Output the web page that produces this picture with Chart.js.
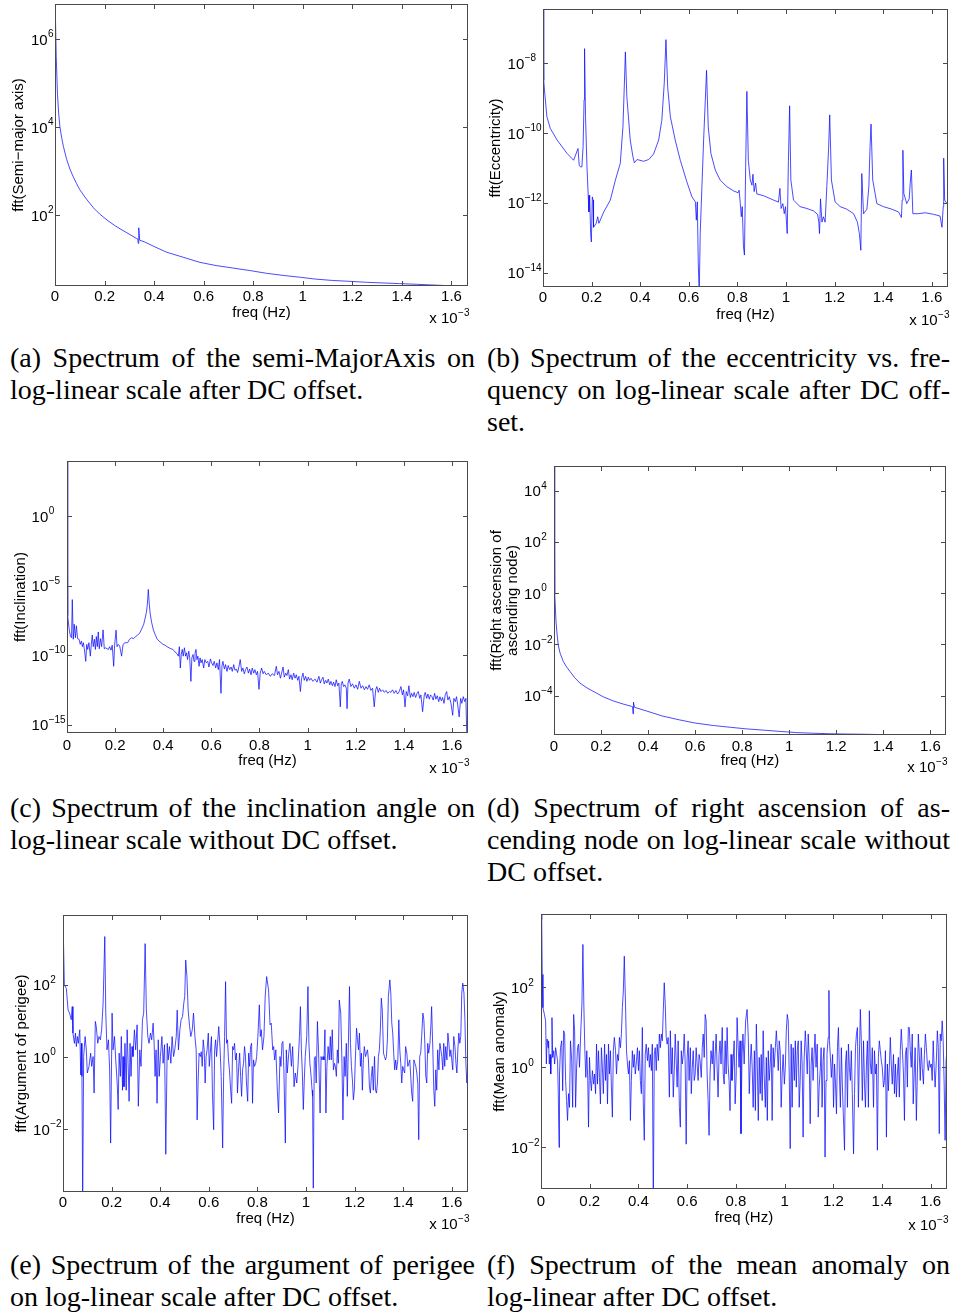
<!DOCTYPE html>
<html>
<head>
<meta charset="utf-8">
<script src="https://cdn.jsdelivr.net/npm/chart.js@4.4.1/dist/chart.umd.min.js"></script>
<style>
  html, body { margin: 0; padding: 0; background: #fff; }
  body { width: 953px; height: 1312px; position: relative; overflow: hidden; }
  canvas { position: absolute; }
  .cap { position: absolute; font-family: "Liberation Serif", "DejaVu Serif", serif; font-size: 28px; line-height: 32px; color: #000; }
  .cap div { white-space: nowrap; }
  .cap .j { text-align: justify; text-align-last: justify; white-space: normal; }
</style>
</head>
<body>
<canvas id="chartA"></canvas>
<canvas id="chartB"></canvas>
<canvas id="chartC"></canvas>
<canvas id="chartD"></canvas>
<canvas id="chartE"></canvas>
<canvas id="chartF"></canvas>

<div class="cap" style="left:10px;top:342px;width:465px">
  <div class="j">(a) Spectrum of the semi-MajorAxis on</div>
  <div>log-linear scale after DC offset.</div>
</div>
<div class="cap" style="left:487px;top:342px;width:463px">
  <div class="j">(b) Spectrum of the eccentricity vs. fre-</div>
  <div class="j">quency on log-linear scale after DC off-</div>
  <div>set.</div>
</div>
<div class="cap" style="left:10px;top:792px;width:465px">
  <div class="j">(c) Spectrum of the inclination angle on</div>
  <div>log-linear scale without DC offset.</div>
</div>
<div class="cap" style="left:487px;top:792px;width:463px">
  <div class="j">(d) Spectrum of right ascension of as-</div>
  <div class="j">cending node on log-linear scale without</div>
  <div>DC offset.</div>
</div>
<div class="cap" style="left:10px;top:1249px;width:465px">
  <div class="j">(e) Spectrum of the argument of perigee</div>
  <div>on log-linear scale after DC offset.</div>
</div>
<div class="cap" style="left:487px;top:1249px;width:463px">
  <div class="j">(f) Spectrum of the mean anomaly on</div>
  <div>log-linear after DC offset.</div>
</div>

<script>
// shared x axis (freq in units of 1e-3 Hz)
const xTickValues = [0, 0.2, 0.4, 0.6, 0.8, 1, 1.2, 1.4, 1.6];
const xTickLabels = ['0', '0.2', '0.4', '0.6', '0.8', '1', '1.2', '1.4', '1.6'];
const freqMax = 1.6667;

// (a) semi-major axis
const yTicksA = [1e2, 1e4, 1e6];
const freqA = [0, 0.005, 0.01, 0.015, 0.02, 0.027, 0.034, 0.047, 0.06, 0.074,
  0.087, 0.10, 0.125, 0.155, 0.18, 0.21, 0.24, 0.263, 0.29, 0.33,
  0.334, 0.336, 0.338, 0.342, 0.36, 0.40, 0.45, 0.52, 0.585, 0.65,
  0.72, 0.79, 0.854, 0.92, 0.99, 1.05, 1.12, 1.19, 1.257, 1.32,
  1.39, 1.46, 1.525, 1.6, 1.667];
const fftA = [1e7, 4e5, 5.6e4, 2e4, 1e4, 5750, 3630, 1860, 1120, 740,
  525, 380, 240, 148, 107, 78, 59, 49, 40, 29.5,
  29, 23, 52, 27, 25, 19.5, 14.5, 11, 8.5, 7.2,
  6.3, 5.5, 4.8, 4.3, 3.9, 3.55, 3.3, 3.15, 3.0, 2.9,
  2.8, 2.7, 2.6, 2.5, 2.4];

// (b) eccentricity
const yTicksB = [1e-14, 1e-12, 1e-10, 1e-8];
const freqB = [0, 0.003, 0.006, 0.016, 0.030, 0.058, 0.099, 0.126, 0.144, 0.149,
  0.154, 0.160, 0.165, 0.169, 0.171, 0.175, 0.181, 0.186, 0.189, 0.192,
  0.196, 0.199, 0.203, 0.206, 0.208, 0.219, 0.225, 0.230, 0.250, 0.277,
  0.298, 0.318, 0.329, 0.335, 0.339, 0.345, 0.359, 0.370, 0.376, 0.387,
  0.414, 0.435, 0.455, 0.476, 0.489, 0.499, 0.506, 0.513, 0.524, 0.544,
  0.565, 0.592, 0.613, 0.627, 0.631, 0.635, 0.639, 0.643, 0.647, 0.654,
  0.661, 0.668, 0.673, 0.680, 0.691, 0.709, 0.729, 0.757, 0.784, 0.803,
  0.807, 0.812, 0.816, 0.820, 0.825, 0.829, 0.834, 0.839, 0.845, 0.853,
  0.860, 0.864, 0.869, 0.875, 0.880, 0.908, 0.949, 0.969, 0.975, 0.980,
  0.987, 0.993, 0.998, 1.005, 1.010, 1.015, 1.020, 1.031, 1.058, 1.086,
  1.113, 1.130, 1.135, 1.138, 1.142, 1.148, 1.154, 1.161, 1.168, 1.175,
  1.180, 1.187, 1.202, 1.223, 1.250, 1.278, 1.294, 1.302, 1.308, 1.312,
  1.319, 1.333, 1.341, 1.346, 1.350, 1.357, 1.374, 1.401, 1.435, 1.463,
  1.475, 1.478, 1.481, 1.485, 1.497, 1.507, 1.512, 1.516, 1.522, 1.545,
  1.573, 1.607, 1.634, 1.642, 1.647, 1.649, 1.653, 1.667];
const fftB = [5e-7, 3.2e-9, 1.7e-9, 2.95e-10, 1.35e-10, 6.3e-11, 2.6e-11, 1.66e-11, 3.6e-11, 1.2e-11,
  1.07e-11, 1.07e-11, 4.1e-11, 8.9e-10, 2.6e-8, 2.95e-10, 1.07e-11, 1.66e-12, 5.5e-13, 1.66e-12,
  1.32e-13, 7.6e-14, 1.48e-12, 1.2e-12, 2.0e-13, 2.6e-13, 4.0e-13, 2.6e-13, 5.5e-13, 1.2e-12,
  4.5e-12, 1.35e-11, 1.5e-10, 2.7e-9, 2.1e-8, 1.1e-9, 6.3e-11, 2.1e-11, 1.4e-11, 1.74e-11,
  1.55e-11, 1.74e-11, 2.5e-11, 6.3e-11, 2.3e-10, 2.7e-9, 4.7e-8, 2.1e-9, 2.95e-10, 6.3e-11,
  1.66e-11, 4.0e-12, 1.48e-12, 1.07e-12, 3.2e-13, 1.07e-12, 1.8e-14, 2.5e-15, 1.32e-13, 2.9e-12,
  6.3e-11, 8.9e-10, 6.2e-9, 1.5e-10, 2.6e-11, 8.7e-12, 4.5e-12, 2.9e-12, 2.2e-12, 1.95e-12,
  2.3e-12, 9.5e-13, 4.0e-13, 7.8e-13, 5.5e-14, 3.2e-14, 1.07e-11, 1.55e-9, 1.66e-11, 4.5e-12,
  3.2e-12, 6.6e-12, 2.1e-12, 3.7e-12, 1.8e-12, 1.6e-12, 1.2e-12, 1.05e-12, 2.6e-12, 6.9e-13,
  9.5e-13, 4.9e-13, 7.8e-13, 1.32e-13, 1.66e-11, 6.0e-10, 4.5e-12, 1.2e-12, 7.8e-13, 6.9e-13,
  5.9e-13, 4.7e-13, 2.8e-13, 1.32e-13, 1.3e-12, 2.8e-13, 4.0e-13, 2.8e-13, 2.9e-12, 3.2e-11,
  3.3e-10, 4.5e-12, 1.07e-12, 7.8e-13, 6.6e-13, 4.9e-13, 2.8e-13, 1.32e-13, 4.4e-14, 6.9e-12,
  4.9e-13, 6.6e-13, 2.9e-12, 4.1e-11, 1.8e-10, 4.5e-12, 9.5e-13, 7.8e-13, 6.6e-13, 5.5e-13,
  3.8e-13, 1.2e-12, 3.2e-11, 1.86e-12, 9.5e-13, 1.3e-12, 4.5e-12, 8.7e-12, 4.9e-13, 4.9e-13,
  5.2e-13, 4.7e-13, 4.2e-13, 2.0e-13, 7.8e-13, 1.9e-11, 1.2e-12, 8.5e-13];

// (c) inclination
const yTicksC = [1e-15, 1e-10, 1e-5, 1e0];
const freqC = [0, 0.003, 0.008, 0.014, 0.019, 0.022, 0.026, 0.030, 0.035, 0.039,
  0.044, 0.050, 0.055, 0.060, 0.064, 0.068, 0.072, 0.078, 0.082, 0.086,
  0.091, 0.097, 0.101, 0.105, 0.109, 0.114, 0.118, 0.122, 0.126, 0.130,
  0.134, 0.139, 0.144, 0.150, 0.155, 0.161, 0.166, 0.172, 0.177, 0.183,
  0.188, 0.194, 0.198, 0.204, 0.208, 0.213, 0.219, 0.227, 0.233, 0.241,
  0.252, 0.260, 0.269, 0.277, 0.285, 0.294, 0.302, 0.310, 0.319, 0.324,
  0.330, 0.334, 0.338, 0.342, 0.346, 0.352, 0.359, 0.366, 0.374, 0.382,
  0.391, 0.399, 0.407, 0.416, 0.424, 0.432, 0.440, 0.449, 0.457, 0.463,
  0.467, 0.471, 0.475, 0.479, 0.483, 0.488, 0.493, 0.497, 0.501, 0.506,
  0.510, 0.515, 0.519, 0.524, 0.528, 0.532, 0.536, 0.540, 0.544, 0.549,
  0.553, 0.557, 0.562, 0.568, 0.573, 0.579, 0.585, 0.590, 0.596, 0.601,
  0.607, 0.612, 0.618, 0.623, 0.629, 0.634, 0.640, 0.644, 0.648, 0.654,
  0.659, 0.665, 0.670, 0.676, 0.682, 0.687, 0.693, 0.698, 0.704, 0.709,
  0.715, 0.720, 0.726, 0.731, 0.737, 0.742, 0.748, 0.754, 0.759, 0.765,
  0.770, 0.776, 0.781, 0.787, 0.792, 0.798, 0.803, 0.809, 0.815, 0.820,
  0.828, 0.837, 0.845, 0.853, 0.862, 0.870, 0.875, 0.881, 0.887, 0.892,
  0.898, 0.903, 0.909, 0.914, 0.920, 0.925, 0.931, 0.936, 0.942, 0.948,
  0.953, 0.959, 0.964, 0.970, 0.975, 0.981, 0.986, 0.992, 0.997, 1.003,
  1.008, 1.014, 1.022, 1.031, 1.039, 1.047, 1.053, 1.058, 1.064, 1.069,
  1.075, 1.080, 1.086, 1.092, 1.097, 1.103, 1.108, 1.114, 1.119, 1.125,
  1.130, 1.136, 1.140, 1.144, 1.150, 1.155, 1.161, 1.164, 1.168, 1.173,
  1.180, 1.187, 1.194, 1.201, 1.208, 1.215, 1.222, 1.229, 1.236, 1.243,
  1.249, 1.256, 1.263, 1.270, 1.277, 1.283, 1.288, 1.294, 1.299, 1.305,
  1.312, 1.319, 1.326, 1.333, 1.340, 1.346, 1.353, 1.360, 1.367, 1.374,
  1.381, 1.388, 1.394, 1.399, 1.405, 1.410, 1.416, 1.421, 1.427, 1.432,
  1.438, 1.443, 1.449, 1.455, 1.460, 1.466, 1.471, 1.478, 1.485, 1.489,
  1.495, 1.500, 1.506, 1.511, 1.517, 1.522, 1.528, 1.533, 1.539, 1.545,
  1.550, 1.556, 1.561, 1.567, 1.572, 1.578, 1.583, 1.589, 1.596, 1.603,
  1.608, 1.614, 1.619, 1.625, 1.630, 1.636, 1.641, 1.647, 1.653, 1.658,
  1.662, 1.667];
const fftC = [1e4, 6.9e-8, 9.8e-9, 2.4e-9, 1.8e-9, 1.0e-6, 1.4e-9, 1.7e-8, 1.8e-9, 1.3e-8,
  1.55e-9, 1.4e-9, 6.0e-10, 1.05e-9, 4.1e-10, 7.9e-10, 2.9e-10, 3.6e-11, 6.0e-10, 2.6e-10,
  7.9e-10, 8.5e-11, 6.0e-10, 2.8e-9, 4.1e-10, 1.4e-9, 2.6e-10, 2.2e-9, 4.1e-10, 4.7e-9,
  2.9e-10, 1.55e-9, 4.1e-10, 6.6e-9, 2.9e-10, 3.4e-10, 2.9e-10, 2.6e-10, 4.1e-10, 2.3e-10,
  5.3e-10, 1.58e-11, 5.3e-10, 6.3e-9, 4.1e-10, 6.0e-10, 4.6e-10, 8.5e-11, 6.0e-10, 7.9e-10,
  7.9e-10, 1.4e-9, 1.8e-9, 1.55e-9, 2.2e-9, 2.8e-9, 3.9e-9, 7.4e-9, 1.7e-8, 4.0e-8,
  1.2e-7, 4.7e-7, 5.4e-6, 4.7e-7, 9e-8, 2.2e-8, 6.6e-9, 3.2e-9, 1.55e-9, 1.05e-9,
  7.9e-10, 6.0e-10, 5.3e-10, 4.1e-10, 3.4e-10, 2.9e-10, 2.6e-10, 1.7e-10, 1.3e-10, 8.5e-11,
  4.1e-10, 1.2e-11, 1.12e-10, 2.6e-10, 8.5e-11, 3.4e-10, 8.5e-11, 1.48e-10, 4.8e-11, 1.95e-10,
  6.4e-11, 1.3e-12, 6.4e-11, 1.12e-10, 3.6e-11, 1.3e-10, 2.6e-10, 4.8e-11, 8.5e-11, 1.58e-11,
  6.4e-11, 2.8e-11, 4.8e-11, 1.2e-11, 4.8e-11, 2.8e-11, 3.6e-11, 1.4e-11, 5.4e-11, 2.8e-11,
  1.8e-11, 3.6e-11, 1.2e-11, 2.8e-11, 9.1e-12, 4.8e-11, 1.8e-13, 1.58e-11, 3.6e-11, 1.0e-11,
  2.1e-11, 6.8e-12, 1.8e-11, 9.1e-12, 1.4e-11, 6.8e-12, 2.1e-11, 8.2e-12, 1.0e-11, 5.6e-12,
  1.58e-11, 4.8e-11, 6.8e-12, 1.2e-11, 4.6e-12, 9.1e-12, 1.4e-11, 5.1e-12, 1.0e-11, 3.9e-12,
  1.2e-11, 5.1e-12, 9.1e-12, 3.9e-12, 6.8e-12, 3.5e-13, 5.1e-12, 1.2e-11, 4.6e-12, 6.8e-12,
  3.9e-12, 5.1e-12, 3.0e-12, 4.6e-12, 3.4e-12, 1.58e-11, 3.9e-12, 6.8e-12, 2.2e-12, 5.1e-12,
  1.4e-11, 2.6e-12, 5.1e-12, 3.4e-12, 9.1e-12, 1.9e-12, 3.9e-12, 1.7e-12, 5.1e-12, 2.2e-12,
  3.9e-12, 1.55e-12, 3.0e-12, 2.4e-13, 2.2e-12, 5.1e-12, 1.55e-12, 3.0e-12, 1.3e-12, 2.6e-12,
  1.55e-12, 2.2e-12, 1.3e-12, 1.9e-12, 1.14e-12, 3.0e-12, 9.8e-13, 1.7e-12, 2.6e-12, 8.6e-13,
  1.55e-12, 9.8e-13, 1.9e-12, 7.3e-13, 1.3e-12, 6.3e-13, 1.14e-12, 5.5e-13, 1.7e-12, 6.3e-13,
  9.8e-13, 1.9e-14, 8.6e-13, 1.3e-12, 5.5e-13, 7.3e-13, 4.2e-13, 1.4e-14, 9.8e-13, 1.9e-12,
  5.5e-13, 8.6e-13, 4.2e-13, 7.3e-13, 3.5e-13, 1.3e-12, 4.2e-13, 6.3e-13, 3.2e-13, 5.5e-13,
  3.5e-13, 7.3e-13, 2.9e-13, 4.2e-13, 1.9e-14, 3.2e-13, 5.5e-13, 2.1e-13, 4.2e-13, 2.4e-13,
  3.2e-13, 2.1e-13, 2.9e-13, 1.8e-13, 2.4e-13, 2.1e-13, 3.2e-13, 1.8e-13, 2.9e-13, 1.6e-13,
  2.4e-13, 5.5e-13, 1.38e-13, 3.2e-13, 1.9e-14, 2.4e-13, 1.2e-13, 6.3e-13, 9e-14, 1.8e-13,
  1.03e-13, 2.1e-13, 9e-14, 1.8e-13, 2.4e-13, 7.8e-14, 1.38e-13, 8.5e-15, 1.38e-13, 2.1e-13,
  7.8e-14, 1.6e-13, 6.8e-14, 1.38e-13, 1.03e-13, 5.9e-14, 1.8e-13, 6.8e-14, 1.2e-13, 4.5e-14,
  1.03e-13, 5.2e-14, 9e-14, 3.4e-14, 1.38e-13, 2.4e-13, 5.9e-14, 1.03e-13, 3.4e-14, 4.7e-15,
  7.8e-14, 4.5e-14, 1.03e-13, 1.9e-14, 3.6e-15, 7.8e-14, 3.4e-14, 1.03e-13, 4.5e-14, 7.8e-14,
  1e-16, 1e-16];

// (d) right ascension of ascending node
const yTicksD = [1e-4, 1e-2, 1e0, 1e2, 1e4];
const freqD = [0, 0.003, 0.0085, 0.013, 0.018, 0.026, 0.04, 0.054, 0.068, 0.088,
  0.11, 0.14, 0.18, 0.21, 0.25, 0.29, 0.33, 0.334, 0.336, 0.338,
  0.342, 0.394, 0.46, 0.535, 0.60, 0.677, 0.75, 0.82, 0.89, 0.96,
  1.03, 1.10, 1.17, 1.24, 1.32, 1.4, 1.53, 1.667];
const fftD = [1e6, 1, 0.08, 0.025, 0.0095, 0.0045, 0.0021, 0.0013, 8.7e-4, 5.0e-4,
  3.1e-4, 2.0e-4, 1.26e-4, 8.9e-5, 6.3e-5, 4.8e-5, 3.8e-5, 3.7e-5, 1.95e-5, 5.6e-5,
  3.5e-5, 2.5e-5, 1.6e-5, 1.12e-5, 8.5e-6, 6.8e-6, 5.8e-6, 5.0e-6, 4.5e-6, 4.0e-6,
  3.6e-6, 3.4e-6, 3.25e-6, 3.16e-6, 3.1e-6, 3.0e-6, 2.95e-6, 2.9e-6];

// (e) argument of perigee
const yTicksE = [1e-2, 1e0, 1e2];
const freqE = [0.000, 0.0055, 0.0137, 0.021, 0.027, 0.034, 0.038, 0.041, 0.047, 0.051,
  0.055, 0.059, 0.063, 0.069, 0.073, 0.076, 0.078, 0.081, 0.085, 0.091,
  0.096, 0.100, 0.107, 0.114, 0.118, 0.124, 0.128, 0.133, 0.137, 0.143,
  0.148, 0.154, 0.159, 0.165, 0.172, 0.176, 0.181, 0.187, 0.192, 0.196,
  0.202, 0.206, 0.212, 0.217, 0.223, 0.227, 0.231, 0.236, 0.240, 0.245,
  0.247, 0.251, 0.255, 0.260, 0.264, 0.268, 0.272, 0.276, 0.280, 0.284,
  0.288, 0.294, 0.299, 0.305, 0.310, 0.316, 0.321, 0.327, 0.332, 0.338,
  0.343, 0.349, 0.354, 0.360, 0.365, 0.371, 0.375, 0.379, 0.383, 0.387,
  0.392, 0.396, 0.401, 0.407, 0.412, 0.418, 0.423, 0.429, 0.433, 0.438,
  0.444, 0.449, 0.455, 0.460, 0.466, 0.470, 0.475, 0.481, 0.486, 0.492,
  0.497, 0.501, 0.505, 0.510, 0.515, 0.521, 0.526, 0.532, 0.537, 0.543,
  0.548, 0.552, 0.556, 0.560, 0.565, 0.569, 0.573, 0.577, 0.581, 0.585,
  0.589, 0.593, 0.598, 0.602, 0.606, 0.611, 0.615, 0.620, 0.624, 0.628,
  0.632, 0.636, 0.641, 0.646, 0.651, 0.657, 0.661, 0.665, 0.669, 0.673,
  0.677, 0.681, 0.685, 0.690, 0.694, 0.698, 0.702, 0.706, 0.710, 0.714,
  0.718, 0.723, 0.727, 0.731, 0.735, 0.739, 0.743, 0.747, 0.751, 0.755,
  0.760, 0.764, 0.768, 0.772, 0.776, 0.780, 0.784, 0.788, 0.793, 0.797,
  0.802, 0.808, 0.812, 0.816, 0.821, 0.827, 0.832, 0.838, 0.846, 0.852,
  0.857, 0.863, 0.867, 0.871, 0.876, 0.882, 0.887, 0.893, 0.897, 0.901,
  0.905, 0.909, 0.915, 0.919, 0.923, 0.929, 0.934, 0.940, 0.945, 0.951,
  0.956, 0.962, 0.967, 0.973, 0.977, 0.981, 0.985, 0.989, 0.993, 0.997,
  1.003, 1.008, 1.012, 1.016, 1.021, 1.025, 1.027, 1.030, 1.034, 1.038,
  1.042, 1.047, 1.052, 1.058, 1.062, 1.066, 1.070, 1.074, 1.078, 1.082,
  1.086, 1.091, 1.096, 1.100, 1.104, 1.108, 1.113, 1.117, 1.121, 1.125,
  1.129, 1.133, 1.137, 1.143, 1.148, 1.152, 1.157, 1.161, 1.166, 1.170,
  1.174, 1.179, 1.183, 1.187, 1.191, 1.195, 1.199, 1.203, 1.208, 1.212,
  1.216, 1.220, 1.224, 1.228, 1.232, 1.236, 1.240, 1.245, 1.249, 1.253,
  1.257, 1.261, 1.265, 1.269, 1.273, 1.277, 1.282, 1.286, 1.290, 1.294,
  1.298, 1.302, 1.306, 1.310, 1.314, 1.319, 1.323, 1.327, 1.331, 1.335,
  1.339, 1.345, 1.349, 1.353, 1.357, 1.361, 1.365, 1.369, 1.373, 1.378,
  1.382, 1.386, 1.390, 1.394, 1.398, 1.402, 1.406, 1.410, 1.415, 1.419,
  1.423, 1.427, 1.431, 1.435, 1.439, 1.444, 1.448, 1.452, 1.456, 1.460,
  1.464, 1.468, 1.472, 1.476, 1.481, 1.485, 1.489, 1.493, 1.497, 1.501,
  1.505, 1.510, 1.514, 1.517, 1.522, 1.526, 1.530, 1.534, 1.538, 1.542,
  1.547, 1.551, 1.555, 1.559, 1.563, 1.567, 1.571, 1.575, 1.580, 1.584,
  1.588, 1.592, 1.596, 1.600, 1.604, 1.608, 1.613, 1.617, 1.621, 1.625,
  1.629, 1.633, 1.637, 1.641, 1.645, 1.650, 1.654, 1.658, 1.662, 1.665];
const fftE = [8000, 100, 80, 20, 16.5, 10.8, 25, 4.6, 2.4, 4.6,
  1.95, 3.7, 2.4, 5.7, 0.32, 2.4, 0.29, 0.0001, 1.03, 3.7,
  1.58, 0.36, 0.55, 1.28, 0.55, 1.03, 0.10, 9.7, 7.0, 2.4,
  3.7, 3.0, 5.7, 31, 2200, 16.5, 1.58, 3.0, 0.44, 0.0041,
  16.5, 1.58, 3.7, 0.83, 0.19, 0.035, 1.28, 0.29, 3.7, 0.12,
  1.03, 0.15, 2.4, 0.12, 5.7, 0.67, 0.059, 2.4, 0.29, 1.95,
  1.03, 5.7, 1.58, 7.8, 0.043, 1.58, 0.55, 10.8, 16.5, 1400,
  20, 3.7, 2.4, 4.6, 3.0, 8.7, 2.4, 0.29, 1.58, 0.052,
  3.0, 0.29, 1.03, 3.7, 0.67, 2.2, 0.0020, 2.4, 0.83, 1.95,
  0.67, 3.7, 1.03, 1.58, 3.7, 20, 1.58, 5.7, 10.8, 13.3,
  31, 48, 490, 170, 20, 7.0, 3.7, 5.7, 16.5, 3.7,
  1.58, 0.018, 0.19, 1.28, 1.03, 1.4, 0.55, 3.0, 1.58, 0.19,
  1.03, 1.58, 4.6, 0.55, 1.28, 3.7, 0.10, 0.0096, 1.58, 3.0,
  1.03, 2.4, 7.0, 1.95, 0.29, 0.0030, 0.29, 3.7, 123, 2.4,
  3.0, 0.83, 0.44, 0.12, 0.052, 1.95, 1.58, 2.4, 0.83, 1.28,
  0.10, 0.55, 1.28, 0.29, 0.081, 0.44, 0.67, 1.95, 1.03, 0.19,
  0.059, 1.28, 0.55, 1.95, 2.4, 0.052, 0.83, 0.55, 0.67, 1.03,
  3.7, 28, 3.7, 5.7, 1.58, 3.7, 48, 170, 73, 7.8,
  8.7, 1.58, 1.95, 0.83, 1.58, 0.12, 0.028, 1.03, 0.55, 2.4,
  2.7, 0.44, 0.0041, 1.58, 0.36, 1.28, 2.4, 0.55, 1.95, 0.15,
  0.36, 0.19, 0.55, 3.7, 25, 1.58, 0.36, 0.035, 0.23, 1.03,
  3.7, 90, 2.4, 0.67, 0.29, 0.12, 0.081, 0.00023, 0.83, 1.03,
  0.19, 9.7, 1.28, 0.028, 1.03, 0.83, 1.03, 0.83, 5.7, 0.028,
  0.55, 1.95, 0.83, 3.7, 0.83, 5.7, 0.44, 0.67, 0.55, 0.29,
  1.58, 0.67, 38, 16.5, 0.67, 0.018, 1.03, 0.29, 2.4, 0.081,
  1.58, 90, 2.4, 0.55, 0.23, 0.065, 0.12, 0.83, 6.3, 3.0,
  1.58, 4.6, 0.55, 1.28, 0.12, 0.83, 1.95, 1.03, 1.28, 1.58,
  0.83, 0.15, 0.10, 0.29, 0.55, 0.12, 1.03, 0.12, 0.10, 0.19,
  1.03, 1.58, 5.7, 43, 20, 1.28, 1.03, 0.83, 1.03, 3.0,
  48, 138, 59, 8.7, 4.6, 1.28, 0.44, 0.83, 0.44, 0.83,
  10.8, 1.58, 0.67, 0.19, 0.55, 0.44, 0.36, 1.95, 1.28, 0.55,
  0.67, 0.83, 0.29, 0.10, 0.059, 0.83, 0.67, 0.55, 0.36, 0.19,
  0.0051, 1.03, 1.28, 3.7, 16.5, 10.8, 2.4, 0.29, 0.19, 2.4,
  1.28, 2.4, 7.8, 25, 1.58, 0.12, 0.043, 0.44, 0.12, 1.58,
  0.44, 2.4, 1.58, 1.03, 0.44, 2.4, 0.55, 1.95, 0.83, 4.6,
  2.4, 1.03, 1.58, 0.83, 0.44, 3.7, 1.95, 0.67, 0.36, 1.58,
  4.6, 2.4, 3.7, 59, 112, 59, 10.8, 0.67, 0.19, 0.44];

// (f) mean anomaly
const yTicksF = [1e-2, 1e0, 1e2];
const freqF = [0, 0.003, 0.005, 0.008, 0.014, 0.019, 0.022, 0.025, 0.029, 0.031,
  0.034, 0.037, 0.040, 0.042, 0.045, 0.048, 0.052, 0.056, 0.060, 0.064,
  0.068, 0.071, 0.074, 0.076, 0.080, 0.085, 0.089, 0.093, 0.097, 0.101,
  0.105, 0.109, 0.113, 0.117, 0.121, 0.126, 0.130, 0.134, 0.138, 0.142,
  0.146, 0.150, 0.154, 0.158, 0.164, 0.168, 0.172, 0.176, 0.180, 0.184,
  0.188, 0.192, 0.195, 0.199, 0.203, 0.207, 0.211, 0.216, 0.220, 0.224,
  0.228, 0.232, 0.236, 0.240, 0.244, 0.248, 0.252, 0.256, 0.261, 0.265,
  0.269, 0.273, 0.277, 0.281, 0.285, 0.289, 0.293, 0.297, 0.301, 0.306,
  0.310, 0.314, 0.318, 0.322, 0.326, 0.330, 0.334, 0.338, 0.342, 0.347,
  0.351, 0.355, 0.359, 0.363, 0.367, 0.371, 0.375, 0.379, 0.383, 0.387,
  0.392, 0.396, 0.400, 0.404, 0.408, 0.412, 0.416, 0.420, 0.424, 0.428,
  0.432, 0.437, 0.441, 0.445, 0.449, 0.453, 0.457, 0.461, 0.465, 0.469,
  0.473, 0.477, 0.482, 0.486, 0.490, 0.494, 0.498, 0.502, 0.506, 0.510,
  0.514, 0.518, 0.522, 0.527, 0.531, 0.535, 0.539, 0.543, 0.547, 0.551,
  0.555, 0.559, 0.563, 0.568, 0.572, 0.576, 0.580, 0.584, 0.588, 0.592,
  0.596, 0.600, 0.604, 0.608, 0.613, 0.617, 0.621, 0.625, 0.629, 0.633,
  0.637, 0.641, 0.645, 0.649, 0.653, 0.658, 0.662, 0.666, 0.670, 0.674,
  0.678, 0.682, 0.686, 0.690, 0.694, 0.698, 0.703, 0.707, 0.711, 0.715,
  0.719, 0.723, 0.727, 0.731, 0.735, 0.739, 0.744, 0.748, 0.752, 0.756,
  0.760, 0.764, 0.768, 0.772, 0.776, 0.780, 0.784, 0.789, 0.793, 0.797,
  0.801, 0.805, 0.809, 0.813, 0.817, 0.821, 0.825, 0.829, 0.834, 0.840,
  0.846, 0.851, 0.855, 0.859, 0.863, 0.867, 0.871, 0.876, 0.880, 0.884,
  0.888, 0.892, 0.896, 0.900, 0.904, 0.908, 0.912, 0.916, 0.921, 0.925,
  0.929, 0.933, 0.937, 0.941, 0.945, 0.949, 0.953, 0.957, 0.962, 0.966,
  0.970, 0.974, 0.978, 0.982, 0.986, 0.990, 0.994, 0.999, 1.003, 1.007,
  1.011, 1.015, 1.019, 1.023, 1.027, 1.031, 1.035, 1.040, 1.044, 1.048,
  1.052, 1.056, 1.060, 1.064, 1.068, 1.072, 1.076, 1.080, 1.085, 1.089,
  1.093, 1.097, 1.101, 1.105, 1.109, 1.113, 1.117, 1.121, 1.125, 1.129,
  1.134, 1.138, 1.142, 1.147, 1.150, 1.154, 1.158, 1.162, 1.166, 1.170,
  1.174, 1.179, 1.182, 1.184, 1.188, 1.192, 1.197, 1.201, 1.205, 1.209,
  1.213, 1.217, 1.221, 1.225, 1.229, 1.233, 1.237, 1.241, 1.246, 1.250,
  1.254, 1.258, 1.262, 1.266, 1.270, 1.274, 1.278, 1.283, 1.287, 1.291,
  1.295, 1.299, 1.303, 1.307, 1.311, 1.315, 1.319, 1.324, 1.328, 1.332,
  1.336, 1.340, 1.344, 1.348, 1.352, 1.356, 1.360, 1.365, 1.369, 1.373,
  1.377, 1.381, 1.385, 1.389, 1.393, 1.397, 1.401, 1.406, 1.410, 1.414,
  1.418, 1.422, 1.426, 1.430, 1.434, 1.438, 1.442, 1.447, 1.451, 1.455,
  1.459, 1.463, 1.467, 1.471, 1.475, 1.479, 1.483, 1.488, 1.492, 1.496,
  1.500, 1.504, 1.508, 1.512, 1.516, 1.520, 1.524, 1.528, 1.532, 1.536,
  1.541, 1.545, 1.549, 1.553, 1.557, 1.561, 1.565, 1.570, 1.574, 1.578,
  1.582, 1.586, 1.590, 1.594, 1.598, 1.602, 1.606, 1.610, 1.614, 1.618,
  1.623, 1.627, 1.631, 1.635, 1.639, 1.643, 1.647, 1.651, 1.655, 1.659,
  1.663, 1.667];
const fftF = [8000, 5000, 210, 31, 21, 14.5, 1.21, 5.1, 3.1, 4.6,
  1.21, 2.1, 0.68, 1.77, 17.5, 1.77, 2.6, 1.21, 3.1, 2.1,
  1.47, 0.22, 0.010, 0.68, 3.1, 4.6, 0.26, 8.2, 6.8, 0.47,
  0.148, 0.047, 0.22, 0.10, 4.6, 1.47, 0.10, 21, 8.2, 0.10,
  0.91, 3.1, 3.8, 1.0, 9.9, 38, 1180, 34, 2.6, 0.56,
  2.6, 0.47, 0.032, 1.77, 0.47, 0.26, 0.83, 0.38, 0.68, 0.22,
  3.8, 0.38, 2.6, 0.56, 0.122, 3.1, 1.0, 0.22, 3.8, 0.47,
  2.1, 0.122, 3.8, 0.68, 2.6, 0.32, 0.057, 2.6, 5.6, 2.6,
  0.68, 2.1, 1.47, 5.6, 3.1, 6.8, 31, 81, 600, 38,
  2.6, 1.21, 0.68, 1.47, 0.047, 0.47, 2.6, 1.0, 2.1, 0.68,
  1.47, 3.1, 0.83, 2.6, 0.47, 0.22, 9.9, 0.122, 0.015, 2.1,
  3.8, 1.47, 3.1, 1.0, 2.1, 0.83, 3.8, 0.0003, 2.1, 3.1,
  0.83, 3.8, 1.47, 6.8, 3.1, 6.8, 4.6, 26, 130, 38,
  5.6, 3.8, 5.6, 0.18, 8.2, 0.68, 3.1, 0.18, 0.83, 6.8,
  1.47, 0.32, 4.6, 0.10, 0.032, 2.6, 1.21, 2.1, 6.8, 1.21,
  0.012, 1.77, 4.6, 0.47, 3.1, 0.22, 1.0, 2.6, 0.47, 0.68,
  3.1, 1.21, 0.47, 2.1, 1.47, 0.56, 3.1, 6.8, 1.77, 21,
  14.5, 0.68, 0.148, 0.020, 0.68, 2.6, 1.21, 4.6, 0.47, 2.1,
  6.8, 1.0, 0.18, 2.1, 4.6, 1.21, 9.9, 0.68, 0.38, 4.6,
  0.68, 9.9, 1.21, 0.47, 0.083, 2.1, 0.47, 1.47, 4.6, 0.122,
  0.56, 17.5, 3.8, 1.0, 4.6, 0.022, 1.77, 6.8, 1.21, 14.5,
  28, 5.6, 0.22, 1.21, 3.8, 1.0, 0.10, 2.6, 0.083, 12,
  1.21, 0.047, 1.77, 0.22, 2.1, 0.148, 8.2, 0.68, 0.10, 1.77,
  0.047, 2.6, 0.47, 1.21, 3.8, 0.047, 3.1, 1.0, 3.1, 8.2,
  3.1, 0.83, 4.6, 2.6, 0.10, 0.68, 2.1, 0.38, 1.0, 8.2,
  21, 14.5, 0.68, 0.0093, 3.8, 0.10, 3.1, 0.47, 4.6, 0.32,
  2.6, 4.6, 0.10, 0.47, 4.6, 1.21, 0.018, 1.47, 8.2, 2.6,
  0.68, 6.8, 1.77, 0.039, 1.21, 3.1, 0.47, 2.1, 6.8, 1.0,
  3.8, 0.057, 0.32, 1.0, 3.1, 0.10, 1.47, 3.1, 0.0057, 0.47,
  2.1, 5.6, 84, 4.6, 1.77, 0.56, 2.1, 0.10, 1.21, 0.38,
  0.069, 3.1, 9.9, 0.68, 0.10, 3.1, 0.38, 0.069, 0.0085, 1.21,
  2.6, 0.10, 3.8, 1.0, 0.47, 2.6, 0.22, 0.0069, 0.22, 3.1,
  6.8, 9.9, 0.10, 1.77, 28, 4.6, 0.148, 4.6, 0.38, 0.10,
  1.21, 4.6, 0.10, 26, 1.21, 0.68, 3.1, 0.10, 2.6, 0.68,
  1.21, 0.0085, 1.77, 4.6, 2.6, 1.47, 1.0, 0.32, 0.47, 2.6,
  0.018, 1.21, 0.26, 1.0, 5.6, 1.21, 0.38, 2.1, 0.22, 1.21,
  0.18, 0.68, 1.77, 0.18, 2.6, 9, 3.1, 0.68, 0.047, 2.1,
  3.1, 0.32, 9.9, 9.9, 2.6, 1.0, 6.8, 0.122, 0.68, 3.1,
  0.047, 0.68, 6.8, 2.1, 0.47, 3.1, 1.0, 0.38, 2.1, 6.8,
  3.1, 1.21, 0.83, 1.47, 1.0, 1.21, 0.47, 4.6, 1.0, 0.32,
  1.47, 8.2, 3.1, 0.022, 6.8, 4.6, 14.5, 4.6, 0.38, 0.015,
  1.47, 3.1];

const lineBlue = 'rgba(10, 10, 255, 0.82)';
const baseFont = '15px "Liberation Sans", Arial, sans-serif';
const supFont = '10px "Liberation Sans", Arial, sans-serif';

// frame = canvas rect on page, box = plot area on page (l, t, r, b)
const panels = [
  { canvas: 'chartA', frame: [0, 0, 478, 335], box: [55, 4, 468, 286], freq: freqA, fft: fftA,
    yMin: 2.47, yMax: 6.3e6, yTicks: yTicksA, yTitle: ['fft(Semi\u2212major axis)'], yTitleGap: 36,
    tickPad: 2, xTitleY: 31, noteY: 37 },
  { canvas: 'chartB', frame: [478, 0, 475, 335], box: [543, 9, 948, 287], freq: freqB, fft: fftB,
    yMin: 3.9e-15, yMax: 3.55e-7, yTicks: yTicksB, yTitle: ['fft(Eccentricity)'], yTitleGap: 47,
    tickPad: 2, xTitleY: 32, noteY: 38 },
  { canvas: 'chartC', frame: [0, 450, 478, 335], box: [67, 461, 468, 733], freq: freqC, fft: fftC,
    yMin: 2.5e-16, yMax: 9.5e3, yTicks: yTicksC, yTitle: ['fft(Inclination)'], yTitleGap: 46,
    tickPad: 3.5, xTitleY: 32, noteY: 40 },
  { canvas: 'chartD', frame: [478, 450, 475, 335], box: [554, 466, 946, 735], freq: freqD, fft: fftD,
    yMin: 2.9e-6, yMax: 9.1e4, yTicks: yTicksD, yTitle: ['fft(Right ascension of', 'ascending node)'], yTitleGap: 49,
    tickPad: 2.5, xTitleY: 30, noteY: 37 },
  { canvas: 'chartE', frame: [0, 905, 478, 335], box: [63, 915, 468, 1192], freq: freqE, fft: fftE,
    yMin: 1.8e-4, yMax: 8.7e3, yTicks: yTicksE, yTitle: ['fft(Argument of perigee)'], yTitleGap: 41,
    tickPad: 2, xTitleY: 31, noteY: 37 },
  { canvas: 'chartF', frame: [478, 905, 475, 335], box: [541, 914, 947, 1189], freq: freqF, fft: fftF,
    yMin: 9.1e-4, yMax: 6.8e3, yTicks: yTicksF, yTitle: ['fft(Mean anomaly)'], yTitleGap: 41,
    tickPad: 4, xTitleY: 33, noteY: 41 }
];

// MATLAB-style box, inward ticks, 10^n labels, axis titles
function axesPlugin(p) {
  return {
    id: 'matlabAxes',
    afterDraw(chart) {
      const { ctx, chartArea: a } = chart;
      const x = chart.scales.x, y = chart.scales.y;
      ctx.save();
      ctx.strokeStyle = '#4a4a4a';
      ctx.lineWidth = 1;
      ctx.beginPath();
      xTickValues.forEach(v => {
        const px = Math.round(x.getPixelForValue(v)) + 0.5;
        ctx.moveTo(px, a.bottom); ctx.lineTo(px, a.bottom - 5);
        ctx.moveTo(px, a.top); ctx.lineTo(px, a.top + 5);
      });
      p.yTicks.forEach(v => {
        const py = Math.round(y.getPixelForValue(v)) + 0.5;
        ctx.moveTo(a.left, py); ctx.lineTo(a.left + 5, py);
        ctx.moveTo(a.right, py); ctx.lineTo(a.right - 5, py);
      });
      ctx.stroke();
      ctx.strokeRect(a.left + 0.5, a.top + 0.5, a.right - a.left - 1, a.bottom - a.top - 1);

      // y tick labels
      ctx.fillStyle = '#000';
      ctx.textBaseline = 'alphabetic';
      const sup = p.yTicks.map(v => String(Math.round(Math.log10(v))).replace('-', '\u2212'));
      ctx.font = supFont;
      const supW = Math.max(...sup.map(s => ctx.measureText(s).width));
      const baseRight = a.left - supW - 1.8;
      p.yTicks.forEach((v, i) => {
        const py = y.getPixelForValue(v);
        ctx.font = baseFont; ctx.textAlign = 'right';
        ctx.fillText('10', baseRight, py + 5.5);
        ctx.font = supFont; ctx.textAlign = 'left';
        ctx.fillText(sup[i], baseRight + 0.4, py - 1.8);
      });

      // x title and x 10^-3 note
      ctx.font = baseFont; ctx.textAlign = 'center';
      ctx.fillText('freq (Hz)', (a.left + a.right) / 2, a.bottom + p.xTitleY);
      ctx.font = supFont; ctx.textAlign = 'right';
      const noteSup = '\u22123';
      const nsW = ctx.measureText(noteSup).width;
      ctx.fillText(noteSup, a.right + 1.5, a.bottom + p.noteY - 7.5);
      ctx.font = baseFont;
      ctx.fillText('x 10', a.right + 1 - nsW, a.bottom + p.noteY);

      // y title
      ctx.translate(a.left - p.yTitleGap, (a.top + a.bottom) / 2);
      ctx.rotate(-Math.PI / 2);
      ctx.textAlign = 'center'; ctx.textBaseline = 'middle';
      const n = p.yTitle.length;
      p.yTitle.forEach((line, i) => ctx.fillText(line, 0, (i - (n - 1) / 2) * 16.5));
      ctx.restore();
    }
  };
}

panels.forEach(p => {
  const cv = document.getElementById(p.canvas);
  const [fx, fy, fw, fh] = p.frame;
  const [l, t, r, b] = p.box;
  cv.width = fw; cv.height = fh;
  cv.style.left = fx + 'px'; cv.style.top = fy + 'px';
  cv.style.width = fw + 'px'; cv.style.height = fh + 'px';

  new Chart(cv, {
    type: 'line',
    data: {
      datasets: [{
        data: p.freq.map((f, i) => ({ x: f, y: p.fft[i] })),
        borderColor: lineBlue,
        borderWidth: 0.9,
        pointRadius: 0,
        tension: 0,
        fill: false
      }]
    },
    options: {
      responsive: false,
      animation: false,
      devicePixelRatio: 1,
      events: [],
      layout: { padding: { left: 0, top: t - fy, right: fx + fw - r, bottom: 0 } },
      plugins: { legend: { display: false }, tooltip: { enabled: false } },
      scales: {
        x: {
          type: 'linear', min: 0, max: freqMax,
          grid: { display: false, drawTicks: false },
          border: { display: false },
          afterBuildTicks: s => { s.ticks = xTickValues.map(v => ({ value: v })); },
          afterFit: s => { s.height = fy + fh - b; },
          ticks: {
            autoSkip: false, maxRotation: 0, padding: p.tickPad, color: '#000',
            font: { family: '"Liberation Sans", Arial, sans-serif', size: 15 },
            callback: (v, i) => xTickLabels[i]
          }
        },
        y: {
          type: 'logarithmic', min: p.yMin, max: p.yMax,
          grid: { display: false, drawTicks: false },
          border: { display: false },
          afterBuildTicks: s => { s.ticks = p.yTicks.map(v => ({ value: v })); },
          afterFit: s => { s.width = l - fx; },
          ticks: { display: false }
        }
      }
    },
    plugins: [axesPlugin(p)]
  });
});
</script>
</body>
</html>
